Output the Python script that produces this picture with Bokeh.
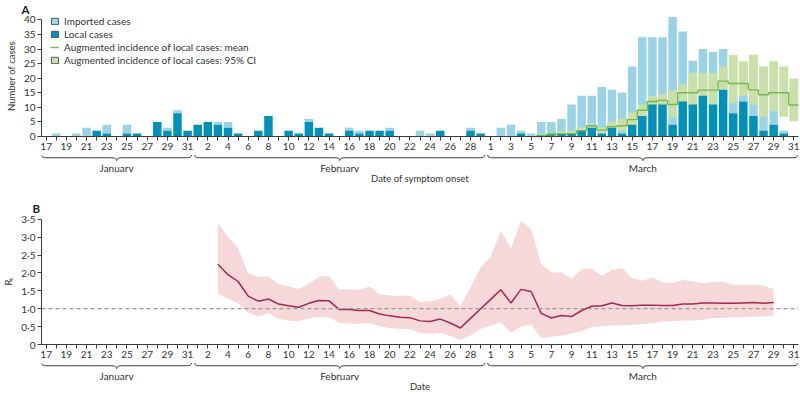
from bokeh.plotting import figure
from bokeh.models import (Range1d, FixedTicker, LinearAxis, Legend, LegendItem,
                          Span, ColumnDataSource)
from bokeh.layouts import column
from bokeh.embed import file_html
from bokeh.resources import INLINE
from bokeh.core.properties import value

FONT = "Lato"

# ---------------- data ----------------
months = ["January", "February", "March"]
days_per_month = [list(range(17, 32)), list(range(1, 30)), list(range(1, 32))]

# Panel A: cases by date of symptom onset (17 Jan – 31 Mar)
local_cases = [0, 0, 0, 0, 0, 2, 1, 0, 1, 1, 0, 5, 2, 8, 2,
               4, 5, 4, 3, 1, 0, 2, 7, 0, 2, 1, 5, 3, 1, 0, 2, 1, 2, 2, 2, 0, 0, 0, 0, 2, 0, 0, 2, 1,
               0, 0, 0, 1, 0, 0, 1, 1, 1, 2, 3, 1, 3, 1, 4, 7, 11, 11, 4, 12, 11, 14, 11, 16, 8, 12, 7, 2, 4, 1, 0]
imported_cases = [0, 1, 0, 1, 3, 0, 3, 0, 3, 0, 0, 0, 1, 1, 0,
                  0, 0, 1, 2, 0, 0, 0, 0, 0, 0, 0, 1, 0, 0, 0, 1, 1, 0, 0, 1, 0, 0, 2, 1, 0, 0, 0, 1, 0,
                  0, 3, 4, 1, 1, 5, 4, 5, 10, 12, 11, 16, 13, 14, 20, 27, 23, 23, 37, 24, 15, 16, 18, 14, 4, 2, 4, 5, 5, 1, 0]

# Augmented incidence of local cases (6 Mar – 31 Mar)
aug_first_day = ("March", 6)
aug_mean = [0.3, 0.7, 0.9, 1.0, 2.0, 3.7, 2.2, 3.4, 3.7, 5.8, 9.0, 12.0, 12.4, 11.0, 15.0,
            15.0, 15.9, 15.9, 19.0, 18.2, 18.2, 16.0, 14.3, 15.0, 15.0, 10.8]
aug_low = [0.0, 0.2, 0.3, 0.4, 0.7, 2.0, 1.1, 2.0, 2.0, 3.7, 6.0, 9.5, 10.0, 6.6, 11.0,
           9.5, 11.0, 10.0, 13.0, 11.6, 13.9, 10.8, 6.8, 8.8, 6.8, 5.2]
aug_high = [0.6, 1.5, 1.8, 2.0, 3.2, 4.5, 3.2, 5.1, 6.0, 8.2, 11.0, 13.9, 14.5, 15.9, 17.9,
            21.8, 21.8, 21.8, 24.0, 28.0, 25.8, 28.0, 24.0, 25.8, 24.0, 19.9]

# Panel B: Rt (3 Feb – 29 Mar)
rt_first_day = ("February", 3)
rt_mean = [2.24, 1.95, 1.76, 1.35, 1.21, 1.27, 1.13, 1.08, 1.04, 1.15, 1.23, 1.22, 0.98, 0.98,
           0.95, 0.95, 0.85, 0.80, 0.76, 0.75, 0.66, 0.64, 0.71, 0.60, 0.46, 0.73, 1.00,
           1.26, 1.53, 1.16, 1.54, 1.48, 0.87, 0.74, 0.81, 0.78, 0.95, 1.07, 1.08, 1.16, 1.09,
           1.08, 1.10, 1.10, 1.09, 1.09, 1.13, 1.13, 1.16, 1.16, 1.15, 1.15, 1.16, 1.17, 1.15, 1.17]
rt_low = [1.42, 1.28, 1.15, 0.89, 0.78, 0.87, 0.71, 0.67, 0.65, 0.73, 0.76, 0.76, 0.60, 0.58,
          0.58, 0.60, 0.51, 0.46, 0.44, 0.42, 0.33, 0.30, 0.33, 0.24, 0.13, 0.25, 0.44,
          0.53, 0.62, 0.33, 0.51, 0.55, 0.18, 0.22, 0.25, 0.31, 0.37, 0.49, 0.51, 0.53, 0.53,
          0.55, 0.57, 0.60, 0.64, 0.65, 0.67, 0.67, 0.69, 0.74, 0.74, 0.76, 0.76, 0.78, 0.78, 0.80]
rt_high = [3.39, 3.00, 2.69, 2.00, 1.89, 1.90, 1.69, 1.63, 1.55, 1.69, 1.89, 1.92, 1.54, 1.54,
           1.53, 1.62, 1.40, 1.37, 1.36, 1.36, 1.19, 1.21, 1.28, 1.40, 1.07, 1.60, 2.15,
           2.46, 3.17, 2.69, 3.46, 3.21, 2.24, 2.01, 2.01, 1.83, 2.10, 2.12, 1.92, 2.08, 2.13,
           1.85, 1.78, 1.87, 1.74, 1.71, 1.80, 1.76, 1.71, 1.75, 1.75, 1.67, 1.67, 1.67, 1.64, 1.55]

count_ticks = [0, 5, 10, 15, 20, 25, 30, 35, 40]
rt_ticks = [0, 0.5, 1.0, 1.5, 2.0, 2.5, 3.0, 3.5]
rt_tick_labels = ["0", "0·5", "1·0", "1·5", "2·0", "2·5", "3·0", "3·5"]

# ---------------- colours ----------------
LIGHT = "#9ad2e6"
DARK = "#0091ba"
GREEN_BAND = "#c9e0aa"
GREEN_LINE = "#76b852"
PINK = "#f6d8d8"
RED = "#a52850"
AXIS = "#3c3c3c"
TXT = "#333333"
NAN = float("nan")

# ---------------- derived ----------------
day_numbers = [d for ds in days_per_month for d in ds]
n = len(day_numbers)
idx = list(range(n))


def day_index(month, day):
    off = 0
    for m, ds in zip(months, days_per_month):
        if m == month:
            return off + ds.index(day)
        off += len(ds)


total_cases = [a + b for a, b in zip(imported_cases, local_cases)]
a0 = day_index(*aug_first_day)
aug_x = [a0 + k for k in range(len(aug_mean))]
step_x, step_y = [], []
for xv, m in zip(aug_x, aug_mean):
    step_x += [xv - 0.5, xv + 0.5]
    step_y += [m, m]
r0 = day_index(*rt_first_day)
rt_x = [r0 + k for k in range(len(rt_mean))]

W = 800
LEFT, RIGHT = 36, 2
x_range = Range1d(-0.46, n - 1 + 0.46)


def style_axis(ax):
    ax.axis_line_color = AXIS
    ax.major_tick_line_color = AXIS
    ax.major_tick_in = 0
    ax.major_tick_out = 4
    ax.minor_tick_line_color = None
    ax.major_label_text_font = FONT
    ax.major_label_text_font_size = "10px"
    ax.major_label_text_color = TXT
    ax.major_label_standoff = 2
    ax.axis_label_text_font = FONT
    ax.axis_label_text_font_size = "9.5px"
    ax.axis_label_text_font_style = "normal"
    ax.axis_label_text_color = TXT
    ax.axis_label_standoff = 4


def date_axis():
    ax = LinearAxis(ticker=FixedTicker(ticks=idx),
                    major_label_overrides={i: (str(d) if i % 2 == 0 else "")
                                           for i, d in enumerate(day_numbers)})
    style_axis(ax)
    return ax


def base_fig(height, y_range, top, bottom, title=None):
    kw = {}
    if title is not None:
        kw["title"] = title
    p = figure(width=W, height=height, x_range=x_range, y_range=y_range,
               x_axis_type=None, y_axis_type=None, toolbar_location=None,
               output_backend="svg", min_border_left=LEFT, min_border_right=RIGHT,
               min_border_top=top, min_border_bottom=bottom, **kw)
    p.outline_line_color = None
    p.background_fill_color = "white"
    return p


def panel_title(p, offset, standoff):
    p.title.align = "left"
    p.title.offset = offset
    p.title.standoff = standoff
    p.title.text_font = FONT
    p.title.text_font_size = "11.5px"
    p.title.text_font_style = "bold"
    p.title.text_color = "#222222"


def brace_fig(height, frame_h, title):
    b = base_fig(height, Range1d(frame_h, 0), 0, height - frame_h)
    ax = LinearAxis(ticker=FixedTicker(ticks=[]), axis_label=title)
    style_axis(ax)
    ax.axis_line_color = None
    ax.major_tick_line_color = None
    ax.major_tick_out = 0
    ax.major_label_standoff = 0
    ax.axis_label_standoff = 0
    b.add_layout(ax, "below")
    # curly braces computed from the month extents
    r = 0.5
    top_y, mid_y, tip_y = 0.5, 3.8, 7.0
    qx0, qy0, qx1, qy1, qcx, qcy = [], [], [], [], [], []
    sx0, sx1, sy = [], [], []
    cx_l, lab = [], []
    off = 0
    for k, (m, ds) in enumerate(zip(months, days_per_month)):
        a = (off - 0.46) if k == 0 else (off - 0.3)
        e = off + len(ds) - 1 + 0.4
        c = (a + e) / 2
        off += len(ds)
        qx0 += [a, c - r, c, e - r]
        qy0 += [top_y, mid_y, tip_y, mid_y]
        qx1 += [a + r, c, c + r, e]
        qy1 += [mid_y, tip_y, mid_y, top_y]
        qcx += [a, c, c, e]
        qcy += [mid_y, mid_y, mid_y, mid_y]
        sx0 += [a + r, c + r]
        sx1 += [c - r, e - r]
        sy += [mid_y, mid_y]
        cx_l.append(c)
        lab.append(m)
    b.quadratic(x0=qx0, y0=qy0, x1=qx1, y1=qy1, cx=qcx, cy=qcy, line_color=AXIS, line_width=1)
    b.segment(x0=sx0, y0=sy, x1=sx1, y1=sy, line_color=AXIS, line_width=1)
    b.text(x=cx_l, y=[tip_y + 1.2] * len(cx_l), text=lab, text_align="center",
           text_baseline="top", text_font=value(FONT), text_font_size="10px", text_color=TXT)
    return b


# ---------------- Panel A ----------------
A_FRAME = 122
pA = base_fig(14 + A_FRAME + 18, Range1d(0, 41.5), 14, 18, title="A")
panel_title(pA, -20, 0)
axA = date_axis()
pA.add_layout(axA, "below")
ayA = LinearAxis(ticker=FixedTicker(ticks=count_ticks), axis_label="Number of cases")
style_axis(ayA)
ayA.bounds = (0, 40)
pA.add_layout(ayA, "left")

srcA = ColumnDataSource(dict(x=idx, local=local_cases, total=total_cases))
pA.vbar(x="x", bottom="local", top="total", width=0.84, fill_color=LIGHT,
        line_color=None, source=srcA)
pA.vbar(x=aug_x, bottom=aug_low, top=aug_high, width=0.88, fill_color=GREEN_BAND,
        line_color=None)
pA.vbar(x="x", bottom=0, top="local", width=0.84, fill_color=DARK, line_color=None, source=srcA)
pA.line(step_x, step_y, line_color=GREEN_LINE, line_width=1.4)

# legend-only renderers (a single NaN record, nothing is drawn in the plot)
d_imp = pA.vbar(x=[NAN], top=[NAN], width=0.8, fill_color=LIGHT, line_color="#555555")
d_loc = pA.vbar(x=[NAN], top=[NAN], width=0.8, fill_color=DARK, line_color="#555555")
d_mean = pA.line(x=[NAN], y=[NAN], line_color=GREEN_LINE, line_width=1.4)
d_ci = pA.vbar(x=[NAN], top=[NAN], width=0.8, fill_color=GREEN_BAND, line_color="#555555")
legend = Legend(items=[LegendItem(label="Imported cases", renderers=[d_imp]),
                       LegendItem(label="Local cases", renderers=[d_loc]),
                       LegendItem(label="Augmented incidence of local cases: mean", renderers=[d_mean]),
                       LegendItem(label="Augmented incidence of local cases: 95% CI", renderers=[d_ci])],
                location=(9, A_FRAME - 52), border_line_color=None, background_fill_alpha=0,
                label_text_font=FONT, label_text_font_size="10px", label_text_color=TXT,
                glyph_width=9, glyph_height=8, label_height=11, spacing=1, padding=0,
                margin=0, label_standoff=5)
pA.add_layout(legend)

bA = brace_fig(32, 21, "Date of symptom onset")

# ---------------- Panel B ----------------
B_FRAME = 126
pB = base_fig(32 + B_FRAME + 18, Range1d(0, 3.52), 32, 18, title="B")
panel_title(pB, -9, 8)
axB = date_axis()
pB.add_layout(axB, "below")
ayB = LinearAxis(ticker=FixedTicker(ticks=rt_ticks), axis_label="Rₜ",
                 major_label_overrides=dict(zip(rt_ticks, rt_tick_labels)))
style_axis(ayB)
ayB.bounds = (0, 3.5)
pB.add_layout(ayB, "left")

pB.varea(x=rt_x, y1=rt_low, y2=rt_high, fill_color=PINK)
pB.add_layout(Span(location=1, dimension="width", line_color="#999999",
                   line_dash="4 3", line_width=1.2))
pB.line(rt_x, rt_mean, line_color=RED, line_width=1.5)

bB = brace_fig(32, 21, "Date")

layout = column(pA, bA, pB, bB, spacing=0)
open("out.html", "w").write(file_html(layout, INLINE))
